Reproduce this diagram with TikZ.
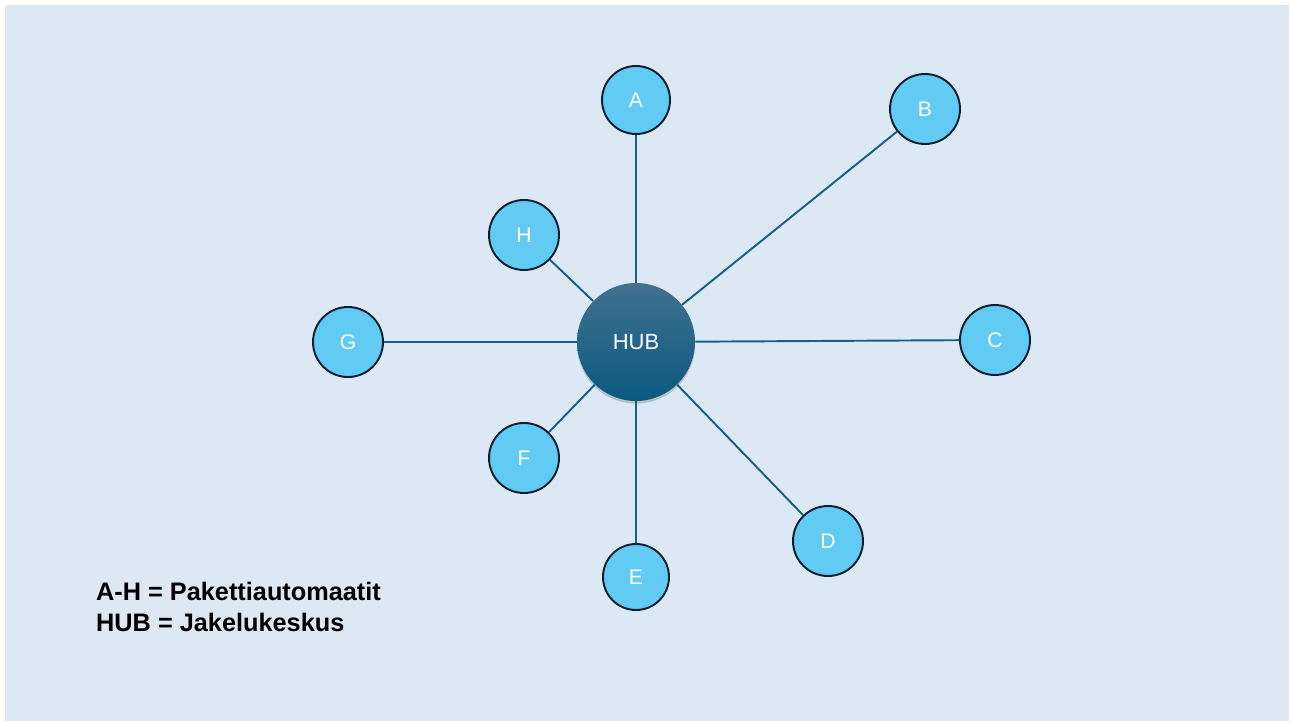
\documentclass[tikz,border=0pt]{standalone}
\usepackage{fontspec}
\setmainfont{Liberation Sans}
\usepackage{xcolor}
\usepackage{tikz}
\usetikzlibrary{shadows}

\definecolor{bgblue}{HTML}{DCE9F5}
\definecolor{stop}{HTML}{61CBF3}
\definecolor{hubtop}{HTML}{42718F}
\definecolor{hubbot}{HTML}{0A5A80}
\definecolor{spoke}{HTML}{1A5E80}
\definecolor{rim}{HTML}{0E1E2E}

\begin{document}
\begin{tikzpicture}[
    x=0.02cm, y=-0.02cm,
    stopnode/.style={circle, draw=rim, line width=1.1pt, fill=stop, minimum size=68*0.02cm, inner sep=0pt, text=white, font=\fontsize{12}{14}\selectfont},
    hubnode/.style={circle, top color=hubtop, bottom color=hubbot, minimum size=118*0.02cm, inner sep=0pt, text=white, font=\fontsize{12.5}{14}\selectfont, drop shadow={shadow xshift=0pt, shadow yshift=-1.5pt, opacity=0.4}},
    link/.style={draw=spoke, line width=1.1pt}
  ]
    \useasboundingbox (0,0) rectangle (1290,722);
    \fill[bgblue] (5,5) rectangle (1289,721);

    % Nodes
    \node[hubnode] (hub) at (636,342) {HUB};
    \node[stopnode] (a) at (636,100) {A};
    \node[stopnode, minimum size=70*0.02cm] (b) at (925,109) {B};
    \node[stopnode, minimum size=70*0.02cm] (c) at (995,340) {C};
    \node[stopnode, minimum size=70*0.02cm] (d) at (828,541) {D};
    \node[stopnode, minimum size=66*0.02cm] (e) at (636,577) {E};
    \node[stopnode, minimum size=70*0.02cm] (f) at (524,458) {F};
    \node[stopnode, minimum size=70*0.02cm] (g) at (348,342) {G};
    \node[stopnode, minimum size=70*0.02cm] (h) at (524,235) {H};

    % Lines
    \foreach \s in {a,b,c,d,e,f,g,h}
      \draw[link] (hub) -- (\s);

    % Legend
    \node[anchor=base west, align=left, font=\bfseries\fontsize{14.4}{17.6}\selectfont] (legend) at (90,631) {A-H = Pakettiautomaatit\\HUB = Jakelukeskus};
  \end{tikzpicture}
\end{document}
